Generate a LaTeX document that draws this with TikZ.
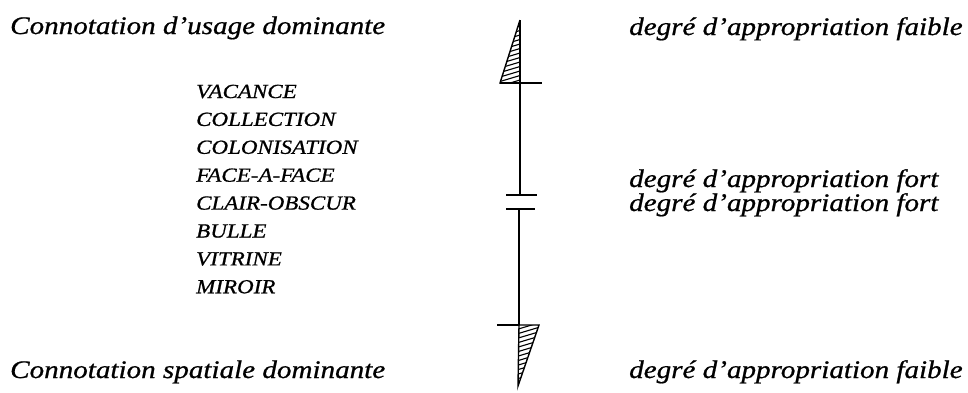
\documentclass[tikz,border=0pt]{standalone}
\usepackage{fontspec}
\newfontfamily\diagfont[FakeStretch=1.15,FakeBold=0.8,ItalicFont=Liberation Serif Italic,ItalicFeatures={FakeStretch=1.15,FakeBold=0.8}]{Liberation Serif}
\usepackage{tikz}
\usetikzlibrary{positioning,calc}

\tikzset{
  titre/.style={anchor=base west, inner sep=0pt, font=\diagfont\itshape\fontsize{25.3}{30}\selectfont},
  terme/.style={anchor=base west, inner sep=0pt, font=\diagfont\itshape\fontsize{20}{24}\selectfont},
  trait/.style={line width=1.4pt},
}

\begin{document}
\begin{tikzpicture}[x=1pt,y=-1pt]
  \useasboundingbox (0,0) rectangle (968,392);
  % textes
  \node[titre] (usage) at (10,34) {Connotation d’usage dominante};
  \node[titre] (spatial) at (10,378) {Connotation spatiale dominante};
  \node[titre] (faibleH) at (629,35) {degré d’appropriation faible};
  \node[titre] (fort1) at (629,187) {degré d’appropriation fort};
  \node[titre] (fort2) at (629,211) {degré d’appropriation fort};
  \node[titre] (faibleB) at (629,378) {degré d’appropriation faible};
  \foreach \nom [count=\i from 0] in {VACANCE,COLLECTION,COLONISATION,FACE-A-FACE,CLAIR-OBSCUR,BULLE,VITRINE,MIROIR} {
    \node[terme] (t\i) at (196,98+27.9*\i) {\nom};
  }
  % axe
  \coordinate (haut) at (520,20);
  \coordinate (baseH) at (520,83);
  \coordinate (coin) at (500,83);
  \coordinate (c1) at (520,195);
  \coordinate (c2) at (519,209);
  \coordinate (baseB) at (519,325);
  \coordinate (bas) at (518,386);
  \draw[trait] (haut) -- (coin) -- (baseH);
  \draw[trait] (haut) -- (c1);
  \draw[trait] (c2) -- (baseB);
  \draw[trait] (baseB) -- (539,325) -- (bas) -- cycle;
  % traits
  \draw[trait] (coin) -- (542,83);
  \draw[trait] (506,195) -- (537,195);
  \draw[trait] (506,209) -- (535,209);
  \draw[trait] (497,325) -- (baseB);
  % hachures
  \begin{scope}
    \clip (haut) -- (coin) -- (baseH) -- cycle;
    \foreach \k in {0,4.5,...,70} {
      \draw[line width=1.1pt] (490,26+\k) -- (530,14+\k);
    }
  \end{scope}
  \begin{scope}
    \clip (baseB) -- (539,325) -- (bas) -- cycle;
    \foreach \k in {0,4.5,...,70} {
      \draw[line width=1.1pt] (505,333+\k) -- (545,321+\k);
    }
  \end{scope}
\end{tikzpicture}
\end{document}
